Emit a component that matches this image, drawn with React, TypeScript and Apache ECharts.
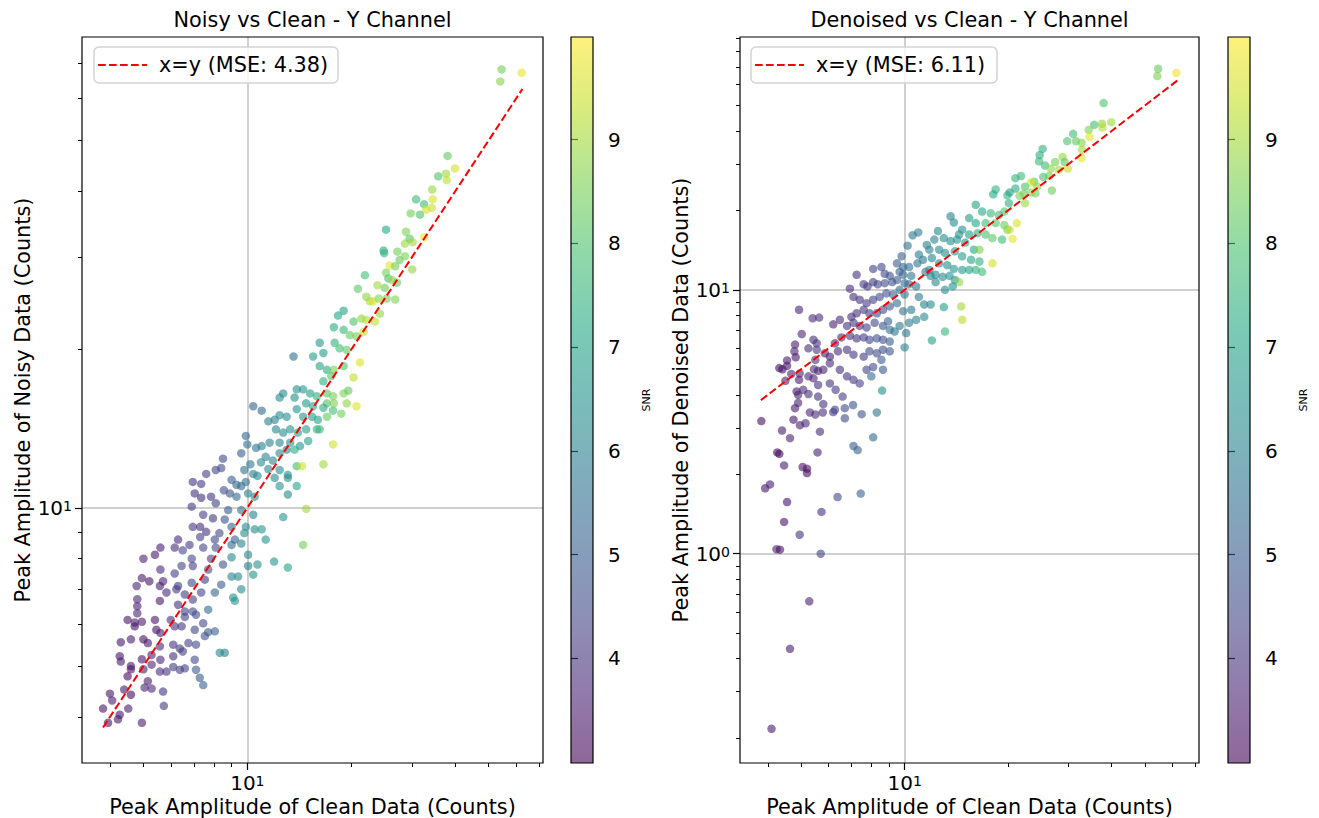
import React, { useEffect, useRef } from 'react';
import * as echarts from 'echarts';

// ---------------- data ----------------
// [clean amplitude, noisy amplitude, SNR]
const NOISY_VS_CLEAN: number[][] = [
  [9.9,13.7,5.2],[10.0,13.2,5.5],[9.6,12.7,5.0],[10.6,13.0,5.6],[11.0,13.1,6.0],[10.95,12.2,6.3],[10.2,12.1,5.8],[9.8,11.8,5.5],[10.4,11.6,6.0],[10.7,11.5,6.2],
  [8.5,12.4,4.5],[8.1,11.8,4.4],[8.4,11.9,4.6],[7.6,11.6,4.3],[6.95,11.2,4.0],[7.35,11.1,4.2],[9.0,11.3,5.0],[9.3,11.06,5.2],[9.6,11.0,5.4],[9.9,11.2,5.5],
  [8.55,10.8,4.6],[8.9,10.65,4.8],[9.3,10.5,5.3],[10.05,10.65,6.1],[10.5,10.5,6.3],[7.04,10.65,4.0],[7.35,10.45,3.9],[7.85,10.5,4.1],[8.1,10.2,4.3],[8.8,9.9,5.0],
  [9.6,9.9,5.6],[10.4,9.7,6.0],[6.9,10.05,4.2],[7.45,9.7,4.3],[7.95,9.55,4.1],[8.6,9.5,4.8],[9.0,9.2,5.3],[9.9,9.2,6.2],[10.5,9.1,6.4],[11.0,9.1,6.6],
  [9.8,8.95,6.3],[6.95,9.2,4.1],[7.3,9.2,3.8],[7.6,9.0,4.0],[8.3,8.95,4.4],[9.2,8.7,5.0],[9.6,8.55,6.0],[7.3,8.8,4.3],[8.05,8.7,4.5],[9.0,8.5,5.2],
  [6.3,8.7,3.8],[6.16,8.4,3.9],[6.8,8.5,4.2],[7.45,8.4,4.4],[8.1,8.4,4.6],[5.6,8.4,3.6],[5.4,8.14,3.5],[5.0,8.0,3.6],[6.5,8.3,4.4],[6.9,8.0,4.5],
  [7.85,8.0,4.4],[8.5,7.8,4.8],[9.0,8.05,6.2],[10.05,8.14,6.1],[10.7,7.8,6.5],[10.05,7.75,5.8],[10.4,7.46,6.6],[5.6,7.63,3.8],[6.16,7.5,4.3],[6.45,7.75,4.4],
  [6.95,7.75,4.3],[7.7,7.63,4.6],[9.0,7.4,6.1],[9.4,7.4,6.2],[4.95,7.35,3.5],[5.2,7.25,3.3],[5.7,7.25,3.6],[4.78,7.1,3.6],[5.58,7.1,3.5],[5.83,6.9,3.8],
  [6.3,7.1,4.2],[6.9,7.2,4.4],[7.53,7.3,4.2],[8.4,7.14,5.0],[7.35,6.9,4.3],[8.05,6.9,5.2],[9.1,6.75,6.5],[9.2,6.65,6.6],[9.6,7.0,6.3],[4.8,6.7,3.7],
  [4.8,6.5,3.6],[4.8,6.3,3.7],[5.58,6.65,3.4],[6.23,7.0,4.1],[6.59,6.84,4.2],[6.95,6.69,4.3],[6.3,6.54,4.0],[6.59,6.35,4.3],[6.95,6.35,4.5],[7.7,6.4,5.3],
  [4.5,6.12,3.4],[4.72,6.05,3.5],[4.95,6.07,3.5],[5.4,6.12,3.4],[4.72,5.95,3.4],[5.45,5.86,3.3],[5.6,5.78,3.6],[6.0,6.12,3.9],[6.59,6.2,4.3],[7.1,6.26,4.6],
  [7.45,6.03,4.5],[6.16,5.95,4.0],[6.45,5.95,4.1],[7.04,5.86,4.4],[7.7,5.8,5.0],[8.05,5.82,5.1],[7.53,5.7,4.8],[4.3,5.55,3.4],[4.6,5.62,3.5],[5.0,5.62,3.2],
  [5.15,5.53,3.4],[5.58,5.45,3.7],[6.1,5.49,4.0],[6.37,5.4,4.2],[6.75,5.53,4.3],[7.1,5.49,4.4],[8.32,5.3,6.2],[8.6,5.3,6.0],[4.27,5.22,3.4],[4.3,5.1,3.5],
  [4.6,5.0,3.4],[4.95,5.15,3.4],[5.28,5.25,3.6],[5.6,5.14,3.7],[6.1,5.22,4.0],[6.5,5.33,4.2],[6.59,4.95,4.4],[7.04,5.14,4.5],[4.5,4.78,3.2],[4.6,4.93,3.3],
  [5.0,4.93,3.5],[5.28,5.03,3.7],[5.58,4.88,3.8],[5.83,4.88,4.0],[6.1,4.98,4.2],[6.37,4.92,4.3],[7.1,4.92,4.9],[7.28,4.75,5.0],[7.45,4.6,5.1],[4.0,4.43,3.4],
  [4.06,4.3,3.5],[4.4,4.51,3.4],[4.6,4.41,3.2],[5.15,4.68,3.5],[5.04,4.55,3.6],[5.28,4.53,3.7],[5.7,4.47,4.0],[3.82,4.15,3.4],[4.27,4.04,3.4],[4.52,4.15,3.5],
  [3.95,3.9,3.3],[4.22,3.96,3.4],[4.95,3.9,3.5],[5.73,4.2,4.2],
  [21.9,27.7,7.8],[20.9,26.1,8.2],[22.1,25.2,8.8],[22.65,24.7,9.0],[19.0,23.7,7.0],[18.3,23.2,7.2],[20.3,22.6,8.0],[21.4,22.9,8.8],[22.1,22.77,9.2],[17.8,22.05,7.3],
  [19.0,21.8,7.6],[19.8,21.3,8.3],[20.7,21.2,8.5],[21.7,21.6,9.3],[16.2,20.6,6.7],[15.5,19.4,6.8],[16.6,19.7,6.9],[17.9,20.6,7.5],[18.5,20.1,7.8],[19.4,19.97,8.2],
  [13.6,19.4,5.5],[21.2,18.9,9.6],[20.3,17.7,9.3],[16.2,18.6,7.0],[17.0,18.3,7.3],[17.8,18.3,8.6],[19.0,18.6,8.0],[17.5,17.8,8.0],[16.6,17.4,7.4],[12.7,16.5,6.2],
  [12.4,16.2,6.3],[13.9,16.8,6.5],[14.5,16.8,6.7],[15.2,16.5,7.0],[15.9,16.3,7.4],[17.0,16.5,8.1],[17.7,16.3,8.5],[19.0,16.5,8.6],[19.6,16.7,8.3],[17.0,15.8,8.0],
  [17.8,15.8,8.6],[19.4,15.8,8.8],[20.7,15.6,9.6],[13.7,16.2,6.4],[14.8,15.8,6.7],[15.5,15.6,7.0],[16.6,15.5,7.3],[16.0,14.7,7.0],[17.0,14.9,8.3],[17.7,15.3,7.8],
  [18.7,15.1,8.5],[10.4,15.6,5.2],[11.0,15.3,5.3],[11.5,14.6,6.0],[12.0,14.7,5.9],[12.4,15.0,6.3],[13.0,14.9,6.4],[13.9,15.4,6.5],[14.5,14.9,6.6],[15.4,14.9,6.8],
  [15.9,14.1,7.4],[12.1,14.1,6.2],[12.7,13.9,6.3],[13.3,14.1,6.5],[14.0,13.9,6.7],[14.8,14.1,6.8],[16.2,14.1,7.6],[11.6,13.3,6.0],[12.4,13.3,6.2],[13.3,13.3,6.5],
  [14.2,13.1,6.6],[15.0,13.4,7.0],[11.3,12.5,6.0],[11.85,12.3,6.1],[12.4,12.7,6.3],[13.0,12.9,6.4],[13.7,12.9,7.3],[11.5,11.85,6.2],[12.4,11.8,6.4],[13.1,11.55,6.6],
  [13.9,12.0,7.7],[14.4,12.0,9.5],[16.6,12.1,9.0],[17.7,13.2,9.5],[12.0,11.4,6.2],[12.4,11.0,6.5],[13.1,11.4,6.4],[13.9,11.0,7.0],[14.8,9.95,9.0],[12.7,9.6,6.6],
  [13.1,10.6,6.3],[14.5,8.5,8.5],[11.95,7.9,6.6],[13.1,7.7,7.1],[11.3,8.7,6.5],
  [54.5,68.2,8.5],[62.3,67.2,9.8],[54.0,64.7,8.7],[38.0,46.7,8.3],[39.9,44.2,9.5],[35.7,42.7,8.0],[37.6,43.2,9.0],[37.8,42.0,9.3],[34.3,40.3,8.9],[34.4,38.6,9.6],
  [32.5,37.8,7.7],[30.8,38.6,7.7],[32.9,36.9,9.6],[34.2,37.2,9.4],[29.7,36.3,8.5],[31.6,36.1,8.0],[25.2,33.8,7.2],[28.8,33.5,8.6],[32.5,32.7,9.8],[28.6,31.8,8.9],
  [29.5,32.5,8.2],[30.1,32.0,9.0],[24.8,30.85,7.3],[24.9,30.5,7.5],[27.2,30.7,8.4],[27.6,29.6,8.3],[28.6,30.1,8.6],[25.8,28.9,9.7],[30.0,28.4,8.8],[25.2,28.0,8.6],
  [26.8,28.8,8.5],[25.6,27.3,7.9],[26.3,27.1,8.8],[23.8,26.5,9.0],[25.0,26.2,8.4],[27.1,26.8,8.2],[23.1,24.7,9.6],[24.0,25.0,8.7],[25.3,25.0,8.5],[26.8,24.9,8.6],
  [24.2,23.4,8.8],[23.4,22.6,9.3],
];

// [clean amplitude, denoised amplitude, SNR]
const DENOISED_VS_CLEAN: number[][] = [
  [3.83,3.18,3.3],[4.4,2.93,3.5],[4.64,2.74,3.6],[4.26,2.42,3.3],[4.32,2.39,3.2],[5.58,2.42,3.6],[4.46,2.16,3.5],[5.05,2.13,3.3],[5.2,2.1,3.4],[5.2,2.02,3.2],
  [3.93,1.77,3.4],[4.06,1.83,3.5],[4.55,1.57,3.4],[5.73,1.44,4.0],[6.38,1.64,4.5],[7.45,1.69,5.2],[4.46,1.32,3.4],[4.95,1.18,4.0],[4.24,1.04,3.5],[4.34,1.036,3.3],
  [5.7,1.0,4.4],[5.28,0.66,3.6],[4.64,0.436,3.5],[4.1,0.217,3.5],[7.1,2.56,5.0],[7.3,2.47,5.1],[8.1,2.76,5.4],[8.3,3.43,5.6],[7.5,3.38,4.8],[6.7,3.26,4.5],
  [6.2,3.44,4.2],[5.67,2.9,3.8],[5.5,3.37,3.8],[5.3,3.43,3.7],[4.96,3.07,3.5],[5.15,3.12,3.7],[4.75,3.22,3.4],[4.8,3.56,3.5],[4.9,3.73,3.6],[4.9,4.0,3.7],
  [4.85,4.12,3.5],[5.25,4.03,3.8],[5.6,3.94,3.9],[5.8,3.69,4.0],[5.78,3.43,3.9],[6.27,3.51,4.3],[6.7,3.56,4.6],[7.08,3.66,4.8],[4.93,8.4,3.6],
  [5.4,7.8,3.8],[5.64,7.85,3.9],[5.02,6.8,3.7],[4.8,6.2,3.5],[4.78,5.85,3.6],[4.82,5.55,3.4],[4.55,5.4,3.5],[4.32,5.05,3.3],[4.41,5.0,3.2],[4.55,5.15,3.4],
  [4.5,4.52,3.5],[4.68,4.8,3.6],[4.95,4.82,3.7],[4.93,4.56,3.5],[5.25,6.0,3.9],[5.43,6.47,3.8],[5.55,6.27,4.0],[5.25,4.7,3.8],[5.45,5.0,3.9],[5.6,4.93,3.6],
  [5.43,4.62,3.7],[5.6,4.36,4.0],[5.07,4.18,3.8],[5.5,5.43,4.0],[5.55,5.93,4.1],
  [18.4,24.0,7.5],[18.1,23.0,7.2],[19.9,22.8,7.6],[16.1,21.0,7.0],[16.8,19.8,7.2],[17.8,19.5,7.6],[18.8,19.2,7.8],[19.5,19.8,8.0],[13.6,19.0,6.0],[13.9,18.0,6.4],
  [15.4,18.7,6.8],[16.1,17.9,7.0],[17.2,17.9,7.7],[18.4,17.9,8.1],[19.5,17.6,8.4],[14.7,16.9,6.5],[14.4,16.2,6.6],[15.4,16.2,6.9],[16.3,16.4,7.4],[17.2,16.2,7.9],
  [18.0,15.7,8.2],[19.2,15.5,7.7],[19.9,16.9,8.5],[10.95,16.5,5.9],[10.55,16.1,5.8],[12.5,16.7,6.2],[13.0,15.7,6.3],[13.6,15.3,6.4],[14.2,15.5,6.6],[15.0,15.1,6.8],
  [15.9,14.2,7.2],[16.5,14.2,8.6],[12.2,15.5,6.1],[11.6,14.8,6.0],[10.2,14.7,5.7],[11.0,13.6,5.9],[11.8,14.2,6.1],[12.6,14.2,6.3],[13.1,13.8,6.4],[14.0,14.0,6.6],
  [14.7,13.4,6.9],[15.6,13.0,7.1],[16.5,12.8,7.4],[18.0,12.6,9.5],[16.1,11.9,7.5],[16.8,11.7,7.7],[10.9,12.6,5.7],[11.3,13.0,5.8],[12.0,13.2,6.0],[12.6,12.6,6.2],
  [13.3,12.4,6.4],[13.9,12.0,6.6],[14.7,11.9,6.7],[15.4,11.9,7.0],[11.8,11.9,6.0],[12.3,11.4,6.2],[12.9,11.2,6.3],[13.5,11.3,6.5],[14.0,10.9,6.6],[14.4,10.7,8.8],
  [13.8,10.3,6.5],[13.1,10.0,6.3],[12.3,10.7,6.1],[11.9,11.3,6.0],[11.5,11.7,5.9],[9.5,12.6,5.0],[9.9,12.2,5.3],[9.8,13.4,5.2],[8.1,12.0,4.3],[8.56,12.2,4.5],
  [8.75,11.5,4.6],[9.05,11.3,4.8],[9.67,11.7,5.1],[9.9,11.4,5.3],[10.45,11.3,5.7],[10.3,12.2,5.5],[7.25,11.4,4.0],[7.6,10.5,4.2],[7.8,10.3,4.1],[8.1,10.7,4.2],
  [8.35,10.5,4.4],[8.75,10.6,4.6],[9.2,10.7,4.8],[9.5,10.9,5.0],[10.0,10.6,5.4],[10.3,10.5,5.6],[10.8,10.3,5.8],[11.0,9.4,5.9],[11.4,8.8,6.0],[11.9,8.8,6.4],
  [13.0,8.6,6.8],[14.6,8.65,9.0],[14.7,7.7,9.2],[13.1,6.95,7.6],[12.0,6.43,7.0],[11.4,7.9,6.2],[10.8,7.7,6.0],[10.3,7.5,5.9],[10.1,6.86,5.8],[10.0,6.05,6.1],
  [9.67,7.3,5.8],[9.35,6.95,5.7],[9.05,7.06,5.6],[6.93,10.1,3.8],[7.1,9.4,3.9],[7.4,9.17,4.0],[7.75,8.9,4.2],[8.1,9.17,4.3],[8.46,9.4,4.5],[8.85,9.7,4.7],
  [9.25,9.6,5.0],[9.67,10.0,5.3],[10.0,9.6,5.5],[9.5,8.9,5.4],[9.05,8.65,5.0],[8.65,8.4,4.6],[8.3,8.15,4.4],[7.9,8.15,4.2],[7.6,8.4,4.1],[7.25,8.15,3.9],
  [7.0,7.9,3.8],[9.9,8.3,5.6],[10.45,8.4,5.8],[6.2,7.4,3.6],[6.48,7.7,3.8],[6.8,7.3,4.0],[7.1,7.5,4.1],[7.4,7.3,4.0],[7.75,7.2,4.3],[8.18,7.5,4.5],
  [8.65,7.3,4.8],[8.95,7.6,5.2],[6.27,6.27,3.5],[6.55,6.6,3.7],[6.93,6.7,3.9],[7.25,6.55,4.0],[7.6,6.6,4.2],[7.9,6.47,4.4],[8.3,6.55,4.6],[8.65,6.47,4.7],
  [9.05,6.37,5.0],[5.86,5.75,3.6],[6.06,5.58,3.5],[6.4,5.85,3.8],[6.8,5.93,3.9],[7.1,5.68,4.1],[7.6,5.58,4.2],[7.9,5.85,4.5],[8.3,5.75,4.5],[8.65,5.93,4.6],
  [9.05,5.85,4.8],[8.56,5.43,5.0],[8.65,4.98,4.9],[8.0,4.7,5.5],[8.6,4.15,6.4],[5.8,4.98,3.7],[6.06,5.27,3.8],[6.48,4.98,3.9],[6.8,4.7,4.0],[7.1,4.56,4.2],
  [7.4,4.42,4.3],[7.75,4.98,4.4],[8.1,5.1,4.6],[6.6,3.94,4.3],[6.3,4.18,4.1],[6.06,4.42,4.0],
  [54.6,68.8,8.3],[54.3,64.6,8.6],[61.7,66.4,9.8],[37.9,51.0,8.0],[35.6,42.2,7.8],[37.5,42.6,8.8],[39.9,43.2,9.0],[37.6,41.2,9.2],[34.3,40.4,8.6],[34.5,38.0,9.7],
  [30.9,39.0,7.8],[29.7,36.6,8.0],[31.5,36.6,8.2],[32.7,36.1,8.7],[32.8,33.9,9.0],[32.7,31.6,9.7],[25.2,34.2,7.5],[24.7,32.4,7.4],[24.6,30.7,7.6],[25.6,29.6,7.7],
  [27.4,30.5,8.5],[28.8,31.9,8.9],[29.2,30.5,8.2],[29.8,28.8,9.3],[28.1,28.5,9.0],[26.6,28.8,8.8],[26.3,27.0,8.5],[25.3,26.8,7.9],[23.8,25.7,8.2],[24.3,24.6,8.8],
  [23.3,25.5,9.6],[21.8,27.0,7.7],[21.0,26.5,7.5],[22.4,24.6,8.0],[22.2,23.1,8.4],[21.6,22.7,8.6],[22.4,21.3,8.9],[23.3,23.4,8.7],[24.0,23.2,8.5],[26.8,23.8,8.4],
  [21.0,24.2,7.3],[20.2,23.4,7.0],[20.1,21.3,7.4],[21.2,17.9,9.6],[20.2,16.9,9.4],[20.6,15.6,9.7],
];

const TITLES = ['Noisy vs Clean - Y Channel', 'Denoised vs Clean - Y Channel'];
const X_NAME = 'Peak Amplitude of Clean Data (Counts)';
const Y_NAMES = ['Peak Amplitude of Noisy Data (Counts)', 'Peak Amplitude of Denoised Data (Counts)'];
const MSE = [4.38, 6.11];
const CLEAN_RANGE = [3.82, 62.6];
const X_RANGE = [3.32, 71.8];
const Y_RANGE_NOISY = [3.27, 78.6];
const Y_RANGE_DENOISED = [0.161, 90.8];
const X_MAJOR = [10];
const X_MINOR = [4, 5, 6, 7, 8, 9, 20, 30, 40, 50, 60, 70];
const Y_NOISY_MAJOR = [10];
const Y_NOISY_MINOR = [4, 5, 6, 7, 8, 9, 20, 30, 40, 50, 60, 70];
const Y_DEN_MAJOR = [1, 10];
const Y_DEN_MINOR = [0.2, 0.3, 0.4, 0.5, 0.6, 0.7, 0.8, 0.9, 2, 3, 4, 5, 6, 7, 8, 9, 20, 30, 40, 50, 60, 70, 80, 90];
const SNR_RANGE = [2.99, 9.99];
const SNR_TICKS = [4, 5, 6, 7, 8, 9];
const VIRIDIS = ['#440154', '#482475', '#414487', '#355f8d', '#2a788e', '#21918c', '#22a884', '#44bf70', '#7ad151', '#bddf26', '#fde725'];

// ---------------- styling ----------------
const FONT = 'DejaVu Sans';
const FS = 20.8;

const sciLabel = (v: number) => `{b|10}{s|${Math.round(Math.log10(v))}}`;
const RICH = {
  b: { fontSize: 20, fontFamily: FONT, color: '#000', lineHeight: 18 },
  s: { fontSize: 14, fontFamily: FONT, color: '#000', lineHeight: 8, verticalAlign: 'top' },
};

const mainLog = (gridIndex: number, range: number[], major: number[], name: string, dim: 'x' | 'y') => ({
  type: 'log',
  logBase: 10,
  gridIndex,
  min: range[0],
  max: range[1],
  position: dim === 'x' ? 'bottom' : 'left',
  name,
  nameLocation: 'middle',
  nameGap: dim === 'x' ? 33 : 48,
  nameMoveOverlap: dim === 'y',
  nameTextStyle: { fontSize: FS, color: '#000', fontFamily: FONT },
  axisLine: { show: false },
  axisTick: { show: true, customValues: major, length: 7, lineStyle: { color: '#000', width: 1.2 } },
  axisLabel: { show: true, customValues: major, formatter: sciLabel, rich: RICH, margin: dim === 'x' ? 11 : 10, color: '#000' },
  splitLine: { show: true, lineStyle: { color: '#c0c0c0', width: 1.5 } },
});

const minorLog = (gridIndex: number, range: number[], minor: number[], position: string) => ({
  type: 'log',
  logBase: 10,
  gridIndex,
  min: range[0],
  max: range[1],
  position,
  axisLine: { show: false },
  axisTick: { show: true, customValues: minor, length: 4, lineStyle: { color: '#000', width: 1 } },
  axisLabel: { show: false },
  splitLine: { show: false },
});

const colorbarAxis = (gridIndex: number) => ({
  type: 'value',
  gridIndex,
  min: SNR_RANGE[0],
  max: SNR_RANGE[1],
  position: 'right',
  name: 'SNR',
  nameLocation: 'middle',
  nameRotate: 90,
  nameGap: 48,
  nameTextStyle: { fontSize: 11, color: '#000', fontFamily: FONT },
  axisLine: { show: false },
  axisTick: { show: true, customValues: SNR_TICKS, length: 7, lineStyle: { color: '#000', width: 1.2 } },
  axisLabel: { show: true, customValues: SNR_TICKS, fontSize: 20, color: '#000', fontFamily: FONT, margin: 15 },
  splitLine: { show: false },
});

const colorbarSeries = (axisIndex: number) => ({
  type: 'custom',
  xAxisIndex: axisIndex,
  yAxisIndex: axisIndex,
  silent: true,
  z: 1,
  data: [[0, SNR_RANGE[0], 1, SNR_RANGE[1]]],
  encode: { x: [0, 2], y: [1, 3] },
  renderItem: (_params: any, api: any) => {
    const p0 = api.coord([api.value(0), api.value(3)]);
    const p1 = api.coord([api.value(2), api.value(1)]);
    return {
      type: 'rect',
      shape: { x: p0[0], y: p0[1], width: p1[0] - p0[0], height: p1[1] - p0[1] },
      style: {
        fill: new echarts.graphic.LinearGradient(0, 1, 0, 0,
          VIRIDIS.map((c, i) => ({ offset: i / (VIRIDIS.length - 1), color: c }))),
        opacity: 0.6,
      },
    };
  },
});

const identityLine = (axisIndex: number) => ({
  type: 'line',
  xAxisIndex: axisIndex,
  yAxisIndex: axisIndex,
  data: [[CLEAN_RANGE[0], CLEAN_RANGE[0]], [CLEAN_RANGE[1], CLEAN_RANGE[1]]],
  showSymbol: false,
  symbol: 'none',
  silent: true,
  z: 3,
  lineStyle: { color: '#ff0000', width: 2, type: [7.7, 3.3] },
});

const legendBox = (x: number, w: number, mse: number) => [
  { type: 'rect', z: 100, shape: { x, y: 47, width: w, height: 36, r: 5 },
    style: { fill: 'rgba(255,255,255,0.8)', stroke: '#d4d4d4', lineWidth: 1.5 } },
  { type: 'line', z: 101, shape: { x1: x + 4, y1: 65, x2: x + 53, y2: 65 },
    style: { stroke: '#ff0000', lineWidth: 2, lineDash: [7.7, 3.3] } },
  { type: 'text', z: 101, x: x + 65, y: 65,
    style: { text: `x=y (MSE: ${mse.toFixed(2)})`, fontSize: FS, fontFamily: FONT, fill: '#000', verticalAlign: 'middle', align: 'left' } },
];

export default function App() {
  const ref = useRef<HTMLDivElement>(null);
  useEffect(() => {
    if (!ref.current) return;
    const chart = echarts.init(ref.current, null, { renderer: 'svg' });
    const gridBase = {
      show: true, borderColor: '#000', borderWidth: 1.2, backgroundColor: 'transparent', z: 5,
      containLabel: false, outerBoundsMode: 'none',
    };
    const option: any = {
      animation: false,
      backgroundColor: '#ffffff',
      textStyle: { fontFamily: FONT },
      title: [
        { text: TITLES[0], left: 312.5, top: 9, textAlign: 'center', padding: 0,
          textStyle: { fontSize: FS, fontWeight: 'normal', color: '#000', fontFamily: FONT } },
        { text: TITLES[1], left: 969.5, top: 9, textAlign: 'center', padding: 0,
          textStyle: { fontSize: FS, fontWeight: 'normal', color: '#000', fontFamily: FONT } },
      ],
      grid: [
        { ...gridBase, left: 82, top: 37, width: 461, height: 726 },
        { ...gridBase, left: 740, top: 37, width: 459, height: 726 },
        { ...gridBase, left: 571, top: 37, width: 22, height: 726 },
        { ...gridBase, left: 1228, top: 37, width: 22, height: 726 },
      ],
      xAxis: [
        mainLog(0, X_RANGE, X_MAJOR, X_NAME, 'x'),
        mainLog(1, X_RANGE, X_MAJOR, X_NAME, 'x'),
        { type: 'value', gridIndex: 2, min: 0, max: 1, show: false },
        { type: 'value', gridIndex: 3, min: 0, max: 1, show: false },
        minorLog(0, X_RANGE, X_MINOR, 'bottom'),
        minorLog(1, X_RANGE, X_MINOR, 'bottom'),
      ],
      yAxis: [
        mainLog(0, Y_RANGE_NOISY, Y_NOISY_MAJOR, Y_NAMES[0], 'y'),
        mainLog(1, Y_RANGE_DENOISED, Y_DEN_MAJOR, Y_NAMES[1], 'y'),
        colorbarAxis(2),
        colorbarAxis(3),
        minorLog(0, Y_RANGE_NOISY, Y_NOISY_MINOR, 'left'),
        minorLog(1, Y_RANGE_DENOISED, Y_DEN_MINOR, 'left'),
      ],
      visualMap: {
        type: 'continuous',
        show: false,
        min: SNR_RANGE[0],
        max: SNR_RANGE[1],
        dimension: 2,
        seriesIndex: [0, 1],
        inRange: { color: VIRIDIS },
      },
      series: [
        { type: 'scatter', xAxisIndex: 0, yAxisIndex: 0, data: NOISY_VS_CLEAN, symbolSize: 8.5, silent: true, itemStyle: { opacity: 0.6 } },
        { type: 'scatter', xAxisIndex: 1, yAxisIndex: 1, data: DENOISED_VS_CLEAN, symbolSize: 8.5, silent: true, itemStyle: { opacity: 0.6 } },
        identityLine(0),
        identityLine(1),
        colorbarSeries(2),
        colorbarSeries(3),
      ],
      graphic: [...legendBox(94, 244, MSE[0]), ...legendBox(751, 246, MSE[1])],
    };
    chart.setOption(option);
    return () => chart.dispose();
  }, []);
  return (
    <div
      ref={ref}
      style={{ position: 'fixed', left: 0, top: 0, width: 1319, height: 818, background: '#fff' }}
    />
  );
}
